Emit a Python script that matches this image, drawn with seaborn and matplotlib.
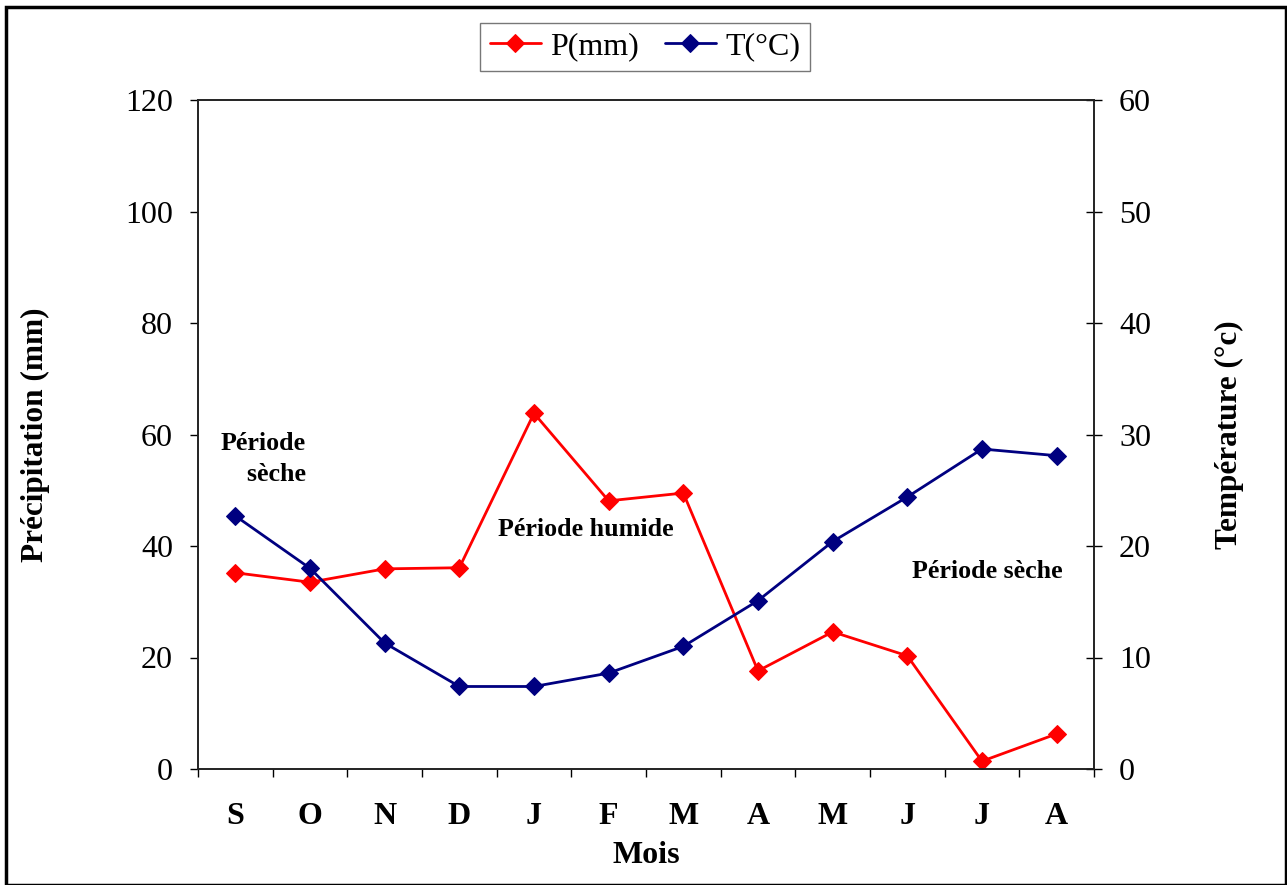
import numpy as np
import pandas as pd
import matplotlib
matplotlib.use("Agg")
import matplotlib.pyplot as plt
import seaborn as sns
from matplotlib.patches import Rectangle

months = ["S", "O", "N", "D", "J", "F", "M", "A", "M", "J", "J", "A"]
precip = [35.2, 33.5, 35.9, 36.1, 63.8, 48.1, 49.5, 17.6, 24.6, 20.3, 1.4, 6.3]
temp = [22.7, 18.0, 11.3, 7.4, 7.4, 8.6, 11.0, 15.1, 20.4, 24.4, 28.7, 28.1]
p_ticks = [0, 20, 40, 60, 80, 100, 120]
t_ticks = [0, 10, 20, 30, 40, 50, 60]

sns.set_theme(style="white")
plt.rcParams["font.family"] = ["Liberation Serif", "DejaVu Serif"]
plt.rcParams["text.color"] = "black"
plt.rcParams["axes.labelcolor"] = "black"
plt.rcParams["xtick.color"] = "black"
plt.rcParams["ytick.color"] = "black"

idx = np.arange(len(months))
df = pd.DataFrame({"idx": idx, "P": precip, "T": temp})

fig = plt.figure(figsize=(12.87, 8.85), dpi=100)
ax = fig.add_axes([198/1287, 1-769/885, (1094-198)/1287, (769-100)/885])
ax2 = ax.twinx()

sns.lineplot(data=df, x="idx", y="P", ax=ax, color="#ff0000", marker="D",
             markersize=9, markeredgecolor="#ff0000", linewidth=2, label="P(mm)", legend=False)
sns.lineplot(data=df, x="idx", y="T", ax=ax2, color="#000080", marker="D",
             markersize=9, markeredgecolor="#000080", linewidth=2, label="T(°C)", legend=False)

ax.set_xlim(-0.5, 11.5)
ax.set_ylim(0, 120)
ax2.set_ylim(0, 60)
ax.set_yticks(p_ticks)
ax2.set_yticks(t_ticks)
ax.set_yticklabels([str(v) for v in p_ticks], fontsize=23)
ax2.set_yticklabels([str(v) for v in t_ticks], fontsize=23)
ax.set_xticks(idx)
ax.set_xticklabels(months, fontsize=23, fontweight="bold")
ax.set_xticks(np.arange(-0.5, 12, 1), minor=True)
ax.tick_params(axis="x", which="major", length=0, pad=24)
ax.tick_params(axis="x", which="minor", length=6, width=1, color="black", direction="out", bottom=True)
ax.tick_params(axis="y", length=6, width=1, color="black", direction="out", left=True, pad=12)
ax2.tick_params(axis="y", length=12, width=1, color="black", direction="inout", right=True, pad=12)

for a in (ax, ax2):
    for s in a.spines.values():
        s.set_color("#222222")
        s.set_linewidth(1.2)
    a.grid(False)

ax.set_xlabel("Mois", fontsize=23, fontweight="bold", labelpad=7)
ax.set_ylabel("Précipitation (mm)", fontsize=22.5, fontweight="bold", labelpad=54)
ax2.set_ylabel("Température (°c)", fontsize=22.5, fontweight="bold", labelpad=46)

ax.text(0.94, 55.6, "Période\n  sèche", fontsize=18.7, fontweight="bold", ha="right", va="center",
        linespacing=1.4)
ax.text(4.69, 42.9, "Période humide", fontsize=18.7, fontweight="bold", ha="center", va="center")
ax.text(10.07, 35.5, "Période sèche", fontsize=18.7, fontweight="bold", ha="center", va="center")

h1, l1 = ax.get_legend_handles_labels()
h2, l2 = ax2.get_legend_handles_labels()
leg = fig.legend(h1 + h2, l1 + l2, loc="center", bbox_to_anchor=(645/1287, 1-47/885), ncol=2,
                 fontsize=23, frameon=True, fancybox=False, edgecolor="#555555",
                 handlelength=1.6, columnspacing=0.8, borderpad=0.3, handletextpad=0.3)
leg.get_frame().set_linewidth(1)

fig.patches.append(Rectangle((6/1287, 0.0), 1 - 7/1287, 1 - 7/885, transform=fig.transFigure,
                             fill=False, edgecolor="black", linewidth=2.5))

fig.savefig("out.png", dpi=100, facecolor="white")
